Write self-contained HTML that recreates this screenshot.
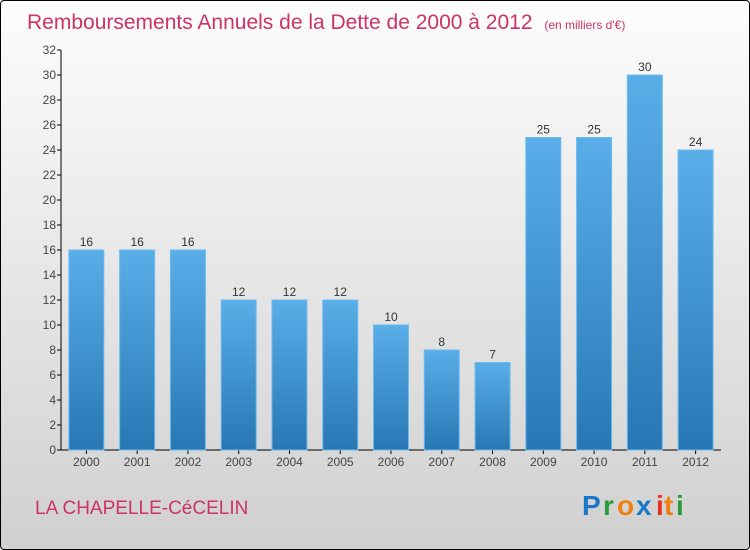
<!DOCTYPE html>
<html><head><meta charset="utf-8"><style>
body{margin:0;width:750px;height:550px;overflow:hidden;font-family:"Liberation Sans",sans-serif}
#frame{position:absolute;left:0;top:0;width:748px;height:548px;border:1px solid #000;border-radius:4px;background:linear-gradient(#fdfdfd,#d0d0d0)}
</style></head><body>
<div id="frame">
<svg width="750" height="550" style="position:absolute;left:-1px;top:-1px">
<defs><linearGradient id="bg" x1="0" y1="0" x2="0" y2="1"><stop offset="0" stop-color="#5aaee8"/><stop offset="1" stop-color="#2877b4"/></linearGradient></defs>
<text x="27" y="29" font-size="21" fill="#cc3366">Remboursements Annuels de la Dette de 2000 à 2012 <tspan font-size="12" dx="6">(en milliers d'€)</tspan></text>
<g id="axes"></g><g id="bars"></g>
<text x="35" y="514" font-size="19" fill="#cc3366">LA CHAPELLE-CéCELIN</text>
<g font-size="28" font-weight="bold">
<text x="582" y="515" fill="#1a78c8">P</text><text x="603" y="515" fill="#2a9a3a">r</text><text x="617" y="515" fill="#f08010">o</text><text x="636" y="515" fill="#1a78c8">x</text><text x="656" y="515" fill="#e83020">i</text><text x="664" y="515" fill="#f08010">t</text><text x="676" y="515" fill="#2a9a3a">i</text></g>
</svg></div>
<script>
const years=["2000","2001","2002","2003","2004","2005","2006","2007","2008","2009","2010","2011","2012"];
const values=[16,16,16,12,12,12,10,8,7,25,25,30,24];
const yTicks=[0,2,4,6,8,10,12,14,16,18,20,22,24,26,28,30,32];
const NS="http://www.w3.org/2000/svg";
const y0=450,y1=50,x0=61,x1=721,maxV=32;
const yS=v=>y0-(v/maxV)*(y0-y1);
const step=(x1-x0)/years.length;
const xS=i=>x0+step*i+step/2;
function mk(t,a,p){const e=document.createElementNS(NS,t);for(const k in a)e.setAttribute(k,a[k]);p.appendChild(e);return e;}
const ax=document.getElementById('axes'),bg=document.getElementById('bars');
let l=mk('line',{x1:x0,y1:y1,x2:x0,y2:y0,stroke:'#000'},ax);


l=mk('line',{x1:x0,y1:y0,x2:x1,y2:y0,stroke:'#000'},ax);


yTicks.forEach(v=>{const y=yS(v);
mk('line',{x1:x0-4,x2:x0,y1:y,y2:y,stroke:'#000'},ax);
const t=mk('text',{x:x0-5,y:y+4,'font-size':12,fill:'#444','text-anchor':'end'},ax);t.textContent=v;

});
years.forEach((yr,i)=>{const cx=xS(i),v=values[i],w=35;
const r=mk('rect',{x:cx-w/2,y:yS(v),width:w,height:y0-yS(v),fill:'url(#bg)',stroke:'#6bbcf0','stroke-width':1},bg);


const t=mk('text',{x:cx,y:yS(v)-4,'font-size':12,fill:'#333','text-anchor':'middle'},bg);t.textContent=v;


mk('line',{x1:cx,x2:cx,y1:y0,y2:y0+4,stroke:'#000'},ax);
const xl=mk('text',{x:cx,y:y0+16,'font-size':12,fill:'#444','text-anchor':'middle'},ax);xl.textContent=yr;

});
</script>
</body></html>
